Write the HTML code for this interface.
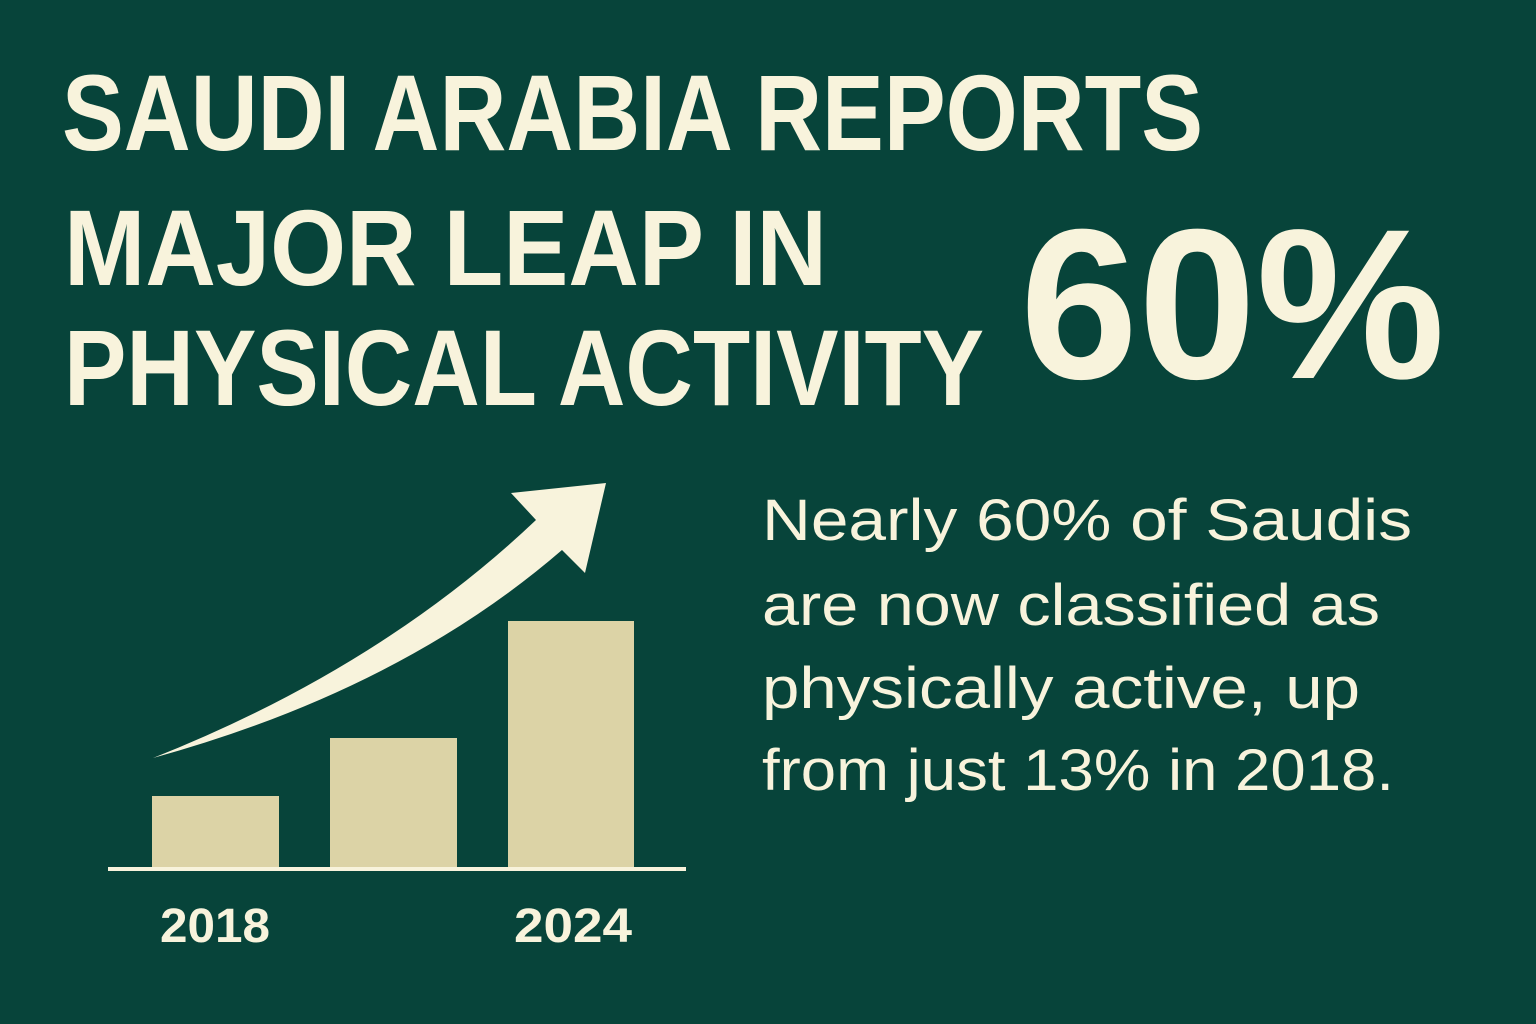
<!DOCTYPE html>
<html><head><meta charset="utf-8"><style>
html,body{margin:0;padding:0;background:#07443a;}
svg{display:block}
</style></head><body>
<svg width="1536" height="1024" viewBox="0 0 1536 1024" xmlns="http://www.w3.org/2000/svg">
<rect width="1536" height="1024" fill="#07443a"/>
<g fill="#f8f3dc" font-family="Liberation Sans, sans-serif" font-weight="bold">
<text x="62" y="150" font-size="108" textLength="1141" lengthAdjust="spacingAndGlyphs">SAUDI ARABIA REPORTS</text>
<text x="64" y="285" font-size="108" textLength="763" lengthAdjust="spacingAndGlyphs">MAJOR LEAP IN</text>
<text x="64" y="405" font-size="108" textLength="920" lengthAdjust="spacingAndGlyphs">PHYSICAL ACTIVITY</text>
<text x="1020" y="378" font-size="214" textLength="425" lengthAdjust="spacingAndGlyphs">60%</text>
</g>
<g fill="#f8f3dc" font-family="Liberation Sans, sans-serif" font-size="58">
<text x="762" y="540" textLength="650" lengthAdjust="spacingAndGlyphs">Nearly 60% of Saudis</text>
<text x="762" y="625" textLength="618" lengthAdjust="spacingAndGlyphs">are now classified as</text>
<text x="762" y="708" textLength="598" lengthAdjust="spacingAndGlyphs">physically active, up</text>
<text x="762" y="790" textLength="632" lengthAdjust="spacingAndGlyphs">from just 13% in 2018.</text>
</g>
<path d="M153,758 Q380,668 536,520 L511,493 L606,483 L585,573 L562,550 Q400,690 153,758 Z" fill="#f8f3dc"/>
<g fill="#dcd3a6">
<rect x="152" y="796" width="127" height="73"/>
<rect x="330" y="738" width="127" height="131"/>
<rect x="508" y="621" width="126" height="248"/>
</g>
<rect x="108" y="867" width="578" height="4" fill="#f8f3dc"/>
<g fill="#f8f3dc" font-family="Liberation Sans, sans-serif" font-weight="bold" font-size="48">
<text x="160" y="942" textLength="110" lengthAdjust="spacingAndGlyphs">2018</text>
<text x="514" y="942" textLength="118" lengthAdjust="spacingAndGlyphs">2024</text>
</g>
</svg>
</body></html>
